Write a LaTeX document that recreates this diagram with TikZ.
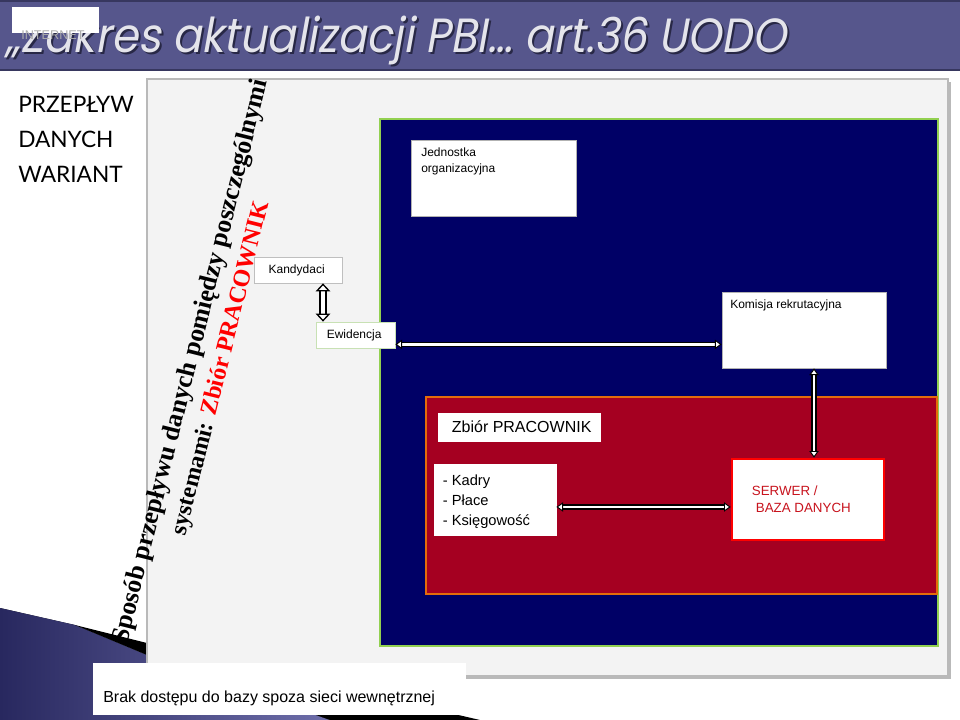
\documentclass[tikz,border=0pt]{standalone}
\usepackage{fontspec}
\setmainfont{Liberation Sans}
\newfontfamily\titlefont[FakeSlant=0.2]{Poppins}
\newfontfamily\leftfont{Lato}
\newfontfamily\rotfont{Liberation Serif}
\usetikzlibrary{positioning,fit,arrows.meta}

\definecolor{titlebar}{RGB}{86,86,140}
\definecolor{titleedge}{RGB}{55,55,95}
\definecolor{titletext}{RGB}{228,228,235}
\definecolor{titleshadow}{RGB}{40,40,70}
\definecolor{panelgray}{RGB}{243,243,243}
\definecolor{panelline}{RGB}{185,185,185}
\definecolor{navy}{RGB}{0,0,102}
\definecolor{navyedge}{RGB}{146,208,80}
\definecolor{zbiorred}{RGB}{165,0,33}
\definecolor{zbioredge}{RGB}{228,108,10}
\definecolor{serwerline}{RGB}{255,0,0}
\definecolor{serwertext}{RGB}{200,20,30}
\definecolor{ewidedge}{RGB}{200,225,180}
\definecolor{swoopdark}{RGB}{40,40,95}
\definecolor{swooplight}{RGB}{110,110,170}

\begin{document}
\begin{tikzpicture}[x=0.75pt, y=-0.75pt,%
	box/.style={draw=#1, fill=white, line width=0.6pt, inner sep=0pt},
	box/.default=gray!60,
	plain/.style={font=\fontsize{9}{12}\selectfont, align=left, inner sep=0pt},
	flow/.style={draw=black, double=white, line width=1pt, double distance=1.8pt,
		{Triangle[length=5pt,width=7pt,line width=0.7pt,fill=white]}-{Triangle[length=5pt,width=7pt,line width=0.7pt,fill=white]}},
	bigflow/.style={draw=black, double=white, line width=1.2pt, double distance=3.5pt,
		{Triangle[length=6pt,width=11pt,line width=1pt,fill=white]}-{Triangle[length=6pt,width=11pt,line width=1pt,fill=white]}}]
	\useasboundingbox (0,0) rectangle (960,720);
	\fill[white] (0,0) rectangle (960,720);

	% swoosh in the corner
	\fill[left color=swoopdark, right color=swooplight] (0,608) -- (75,625) -- (147,655) -- (330,720) -- (0,720) -- cycle;
	\fill[black] (75,625) -- (147,643) -- (480,720) -- (330,720) -- (147,655) -- cycle;

	% panel
	\fill[gray!55] (150,82) rectangle (951,679);
	\draw[panelline, fill=panelgray, line width=1.2pt] (147,79) rectangle (948,676);
	\draw[navyedge, fill=navy, line width=2.2pt] (380,119) rectangle (938,646);
	\draw[zbioredge, fill=zbiorred, line width=1.5pt] (426,397) rectangle (937,594);

	% boxes
	\node[box, fit={(411,140) (576,216)}] (jedn) {};
	\node[plain, anchor=north west] (jednlbl) at (421,148) {Jednostka\\organizacyjna};
	\node[box, fit={(722,292) (886,368)}] (komisja) {};
	\node[plain, anchor=north west] (komlbl) at (730,300) {Komisja rekrutacyjna};
	\node[box=gray!50, fit={(254,257) (342,283)}] (kand) {};
	\node[plain] (kandlbl) at ([xshift=-1pt]kand.center) {Kandydaci};
	\node[box=ewidedge, fit={(316,322) (395,348)}] (ewid) {};
	\node[plain] (ewidlbl) at ([xshift=-1pt]ewid.center) {Ewidencja};
	\node[box=white, fit={(438,413) (600,441)}] (zbior) {};
	\node[inner sep=0pt, font=\fontsize{12}{14}\selectfont] (zbiorlbl) at ([xshift=2pt]zbior.center) {Zbiór PRACOWNIK};
	\node[box=white, fit={(434,464) (556,535)}] (kadry) {};
	\node[anchor=west, align=left, inner sep=0pt, font=\fontsize{11}{15}\selectfont] (kadrylbl) at ([xshift=6.75pt,yshift=-1.5pt]kadry.west)
		{- Kadry\\- Płace\\- Księgowość};
	\node[box=serwerline, line width=2pt, fit={(732,459) (884,540)}] (serwer) {};
	\node[anchor=west, align=left, inner sep=0pt, text=serwertext, font=\fontsize{10}{12.75}\selectfont] (serwerlbl)
		at ([xshift=15.75pt]serwer.west) {SERWER /\\\hspace{3pt}BAZA DANYCH};

	% connectors
	\coordinate (kandout) at ([xshift=18.75pt]kand.south);
	\coordinate (ewidout) at ([yshift=3pt]ewid.south east);
	\coordinate (komout) at ([xshift=7.5pt]komisja.south);
	\coordinate (kadout) at ([yshift=-5.6pt]kadry.east);
	\draw[bigflow] (kandout) -- (kandout |- ewid.north);
	\draw[flow] (ewidout) -- (ewidout -| komisja.west);
	\draw[flow] (komout) -- (komout |- serwer.north);
	\draw[flow] (kadout) -- (kadout -| serwer.west);

	% slanted caption
	\node[rotate=76, align=center, font=\rotfont\bfseries\fontsize{19.4}{23}\selectfont] (sposob) at (206,365)
		{Sposób przepływu danych pomiędzy poszczególnymi\\{\fontsize{18}{23}\selectfont systemami: \textcolor{red}{Zbiór PRACOWNIK}}};
	\node[anchor=north west, align=left, inner sep=0pt, font=\leftfont\fontsize{17}{26.25}\selectfont] (wariant) at (18,96)
		{PRZEPŁYW\\DANYCH\\WARIANT};

	% note at the bottom
	\node[box=white, fit={(93,663) (465,714)}] (brakbox) {};
	\node[anchor=base west, inner sep=0pt, font=\fontsize{12}{14}\selectfont] (brak) at (103,702)
		{Brak dostępu do bazy spoza sieci wewnętrznej};

	% title bar
	\fill[titlebar] (0,0) rectangle (960,71);
	\draw[titleedge, line width=0.8pt] (0,1) -- (960,1);
	\draw[titleedge, line width=1.5pt] (0,70) -- (960,70);
	\node[anchor=base west, inner sep=0pt, xscale=0.9, text=titleshadow, font=\titlefont\fontsize{36}{36}\selectfont] (titleshd) at (7,55)
		{„Zakres aktualizacji PBI… art.36 UODO};
	\node[anchor=base west, inner sep=0pt, xscale=0.9, text=titletext, font=\titlefont\fontsize{36}{36}\selectfont] (title) at (5,53)
		{„Zakres aktualizacji PBI… art.36 UODO};
	\fill[white] (12,7) rectangle (99,33);
	\node[inner sep=0pt, text=gray!65, font=\fontsize{9.5}{10}\selectfont] (internet) at (53,35) {INTERNET};
\end{tikzpicture}
\end{document}
